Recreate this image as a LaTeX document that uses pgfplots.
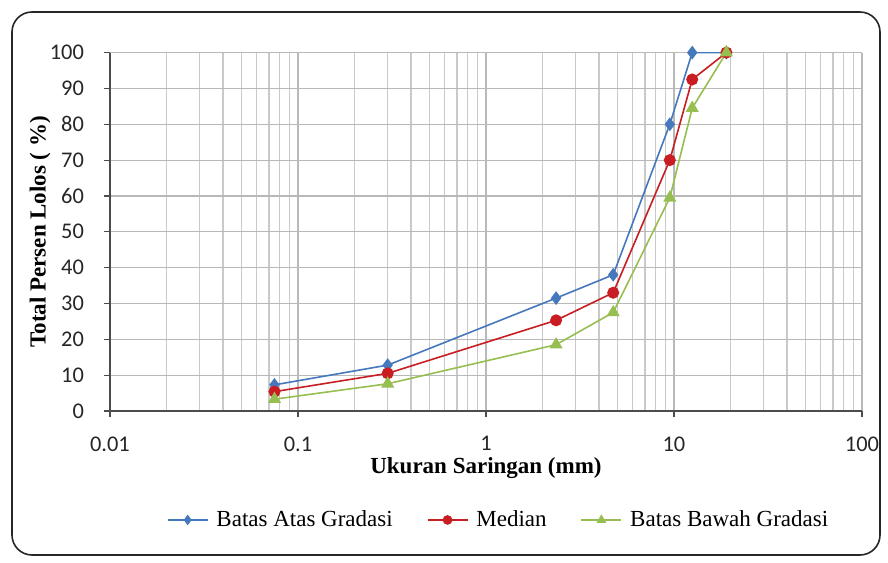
\documentclass[border=0pt]{standalone}
\usepackage{fontspec}
\setmainfont{Liberation Serif}
\newfontfamily\carlito{Carlito}
\usepackage{pgfplots}
\pgfplotsset{compat=1.18}
\definecolor{cblue}{RGB}{70,120,190}
\definecolor{cred}{RGB}{200,30,35}
\definecolor{cgreen}{RGB}{150,190,80}
\begin{document}
\begin{tikzpicture}
\path (-55pt,-75.5pt) rectangle (389pt,205.5pt);
\begin{axis}[
  at={(0,0)}, anchor=south west, scale only axis,
  width=376pt, height=179.2pt,
  xmode=log, xmin=0.01, xmax=100, ymin=0, ymax=100,
  xtick={0.01,0.1,1,10,100}, xticklabels={0.01,0.1,1,10,100},
  ytick={0,10,...,100}, yticklabels={0,10,20,30,40,50,60,70,80,90,100},
  grid=both,
  major grid style={gray!55, line width=0.6pt},
  minor grid style={gray!42, line width=0.7pt},
  axis x line*=bottom, axis y line*=left,
  axis line style={gray!60!black, line width=0.7pt},
  tick style={gray!60!black, line width=0.6pt},
  tick align=outside, major tick length=3pt, minor tick length=0pt,
  tick label style={font=\carlito\fontsize{11.2}{13}\selectfont, text=black!85},
  yticklabel style={xshift=-6.5pt},
  xticklabel style={yshift=-6.2pt},
  xlabel={\textbf{Ukuran Saringan (mm)}},
  ylabel={\textbf{Total Persen Lolos ( \%)}},
  label style={font=\fontsize{11.5}{13}\selectfont},
  xlabel style={at={(axis description cs:0.5,-0.16)}, anchor=center},
  ylabel style={at={(axis description cs:-0.093,0.5)}, anchor=center},
  legend style={at={(axis description cs:0.518,-0.304)}, anchor=center, draw=none,
    font=\fontsize{11.5}{13}\selectfont,
    /tikz/every even column/.append style={column sep=15pt},
    /tikz/every odd column/.append style={column sep=2pt}},
  legend columns=3,
  legend image code/.code={\draw[mark repeat=2,mark phase=2,mark size=2pt]
    plot coordinates {(0pt,0pt) (10pt,0pt) (20pt,0pt)};},
]
\addplot[cblue, line width=0.8pt, mark=diamond*, mark size=2.8pt] coordinates {
 (0.075,7.3) (0.3,12.8) (2.36,31.5) (4.75,38) (9.5,80) (12.5,100) (19,100)};
\addlegendentry{Batas Atas Gradasi}
\addplot[cred, line width=0.8pt, mark=*, mark size=2.6pt] coordinates {
 (0.075,5.4) (0.3,10.5) (2.36,25.3) (4.75,33) (9.5,70) (12.5,92.5) (19,100)};
\addlegendentry{Median}
\addplot[cgreen, line width=0.8pt, mark=triangle*, mark size=3pt] coordinates {
 (0.075,3.3) (0.3,7.6) (2.36,18.5) (4.75,27.5) (9.5,59.5) (12.5,84.5) (19,100)};
\addlegendentry{Batas Bawah Gradasi}
\end{axis}
\draw[rounded corners=10pt, line width=0.8pt, gray!30!black] (-49pt,-72pt) rectangle (385pt,199.5pt);
\end{tikzpicture}
\end{document}
